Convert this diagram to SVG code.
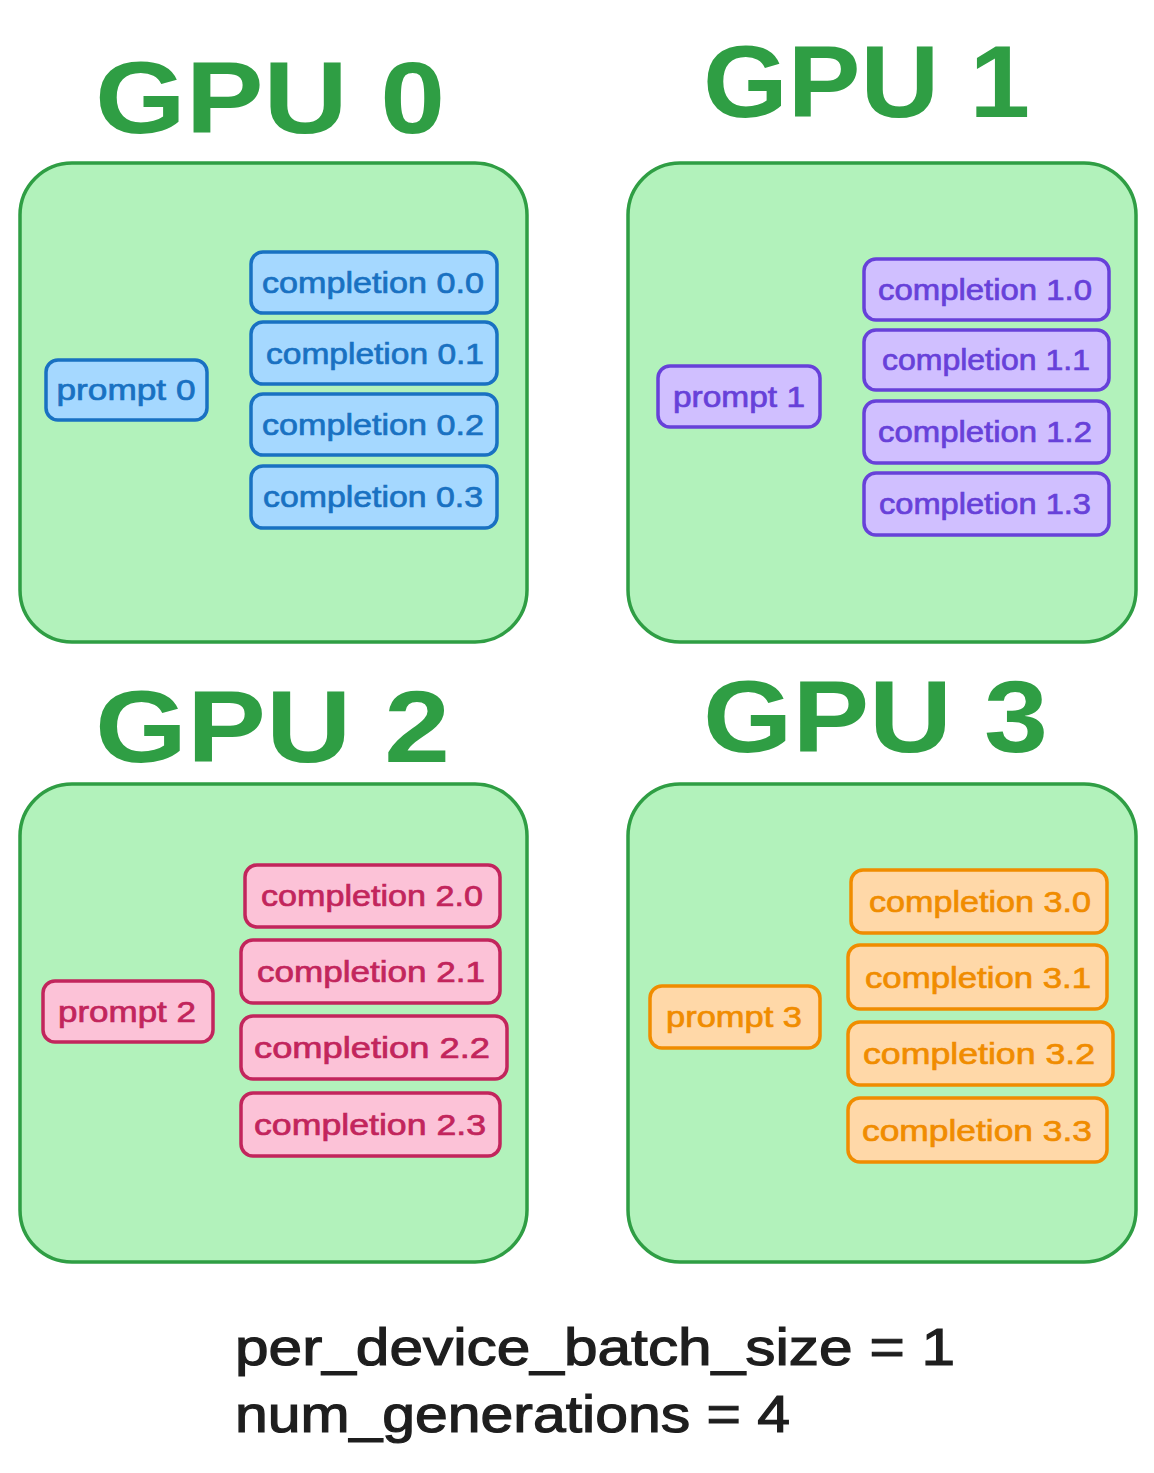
<svg xmlns="http://www.w3.org/2000/svg" width="1154" height="1473" viewBox="0 0 1154 1473">
<style>
.gpu{fill:#b2f2bb;stroke:#2f9e44;stroke-width:3.5}
.title{font-family:"Liberation Sans",Arial,sans-serif;font-size:102px;font-weight:700;fill:#2f9e44}
.lbl{font-family:"Liberation Sans",Arial,sans-serif;font-size:30px;text-anchor:middle;stroke-width:0.7}
.b rect{fill:#a5d8ff;stroke:#1971c2;stroke-width:3.5}
.b text{fill:#1971c2;stroke:#1971c2}
.v rect{fill:#d0bfff;stroke:#6741d9;stroke-width:3.5}
.v text{fill:#6741d9;stroke:#6741d9}
.p rect{fill:#fcc2d7;stroke:#c2255c;stroke-width:3.5}
.p text{fill:#c2255c;stroke:#c2255c}
.o rect{fill:#ffd8a8;stroke:#f08c00;stroke-width:3.5}
.o text{fill:#f08c00;stroke:#f08c00}
.note{font-family:"Liberation Sans",Arial,sans-serif;font-size:52px;fill:#1e1e1e;stroke:#1e1e1e;stroke-width:1.2}
</style>
<rect width="1154" height="1473" fill="#ffffff"/>

<g id="gpu0">
<text class="title" x="95" y="133" textLength="350" lengthAdjust="spacingAndGlyphs">GPU 0</text>
<rect class="gpu" x="20" y="163" width="507" height="479" rx="52"/>
<g class="b">
<g id="prompt0"><rect x="46" y="360" width="161" height="60" rx="12"/><text class="lbl" x="126" y="400" textLength="139" lengthAdjust="spacingAndGlyphs">prompt 0</text></g>
<g id="c00"><rect x="251" y="252" width="246" height="61" rx="12"/><text class="lbl" x="373" y="293" textLength="222" lengthAdjust="spacingAndGlyphs">completion 0.0</text></g>
<g id="c01"><rect x="251" y="322" width="246" height="62" rx="12"/><text class="lbl" x="375" y="364" textLength="218" lengthAdjust="spacingAndGlyphs">completion 0.1</text></g>
<g id="c02"><rect x="251" y="394" width="246" height="61" rx="12"/><text class="lbl" x="373" y="435" textLength="222" lengthAdjust="spacingAndGlyphs">completion 0.2</text></g>
<g id="c03"><rect x="251" y="466" width="246" height="62" rx="12"/><text class="lbl" x="373" y="507" textLength="220" lengthAdjust="spacingAndGlyphs">completion 0.3</text></g>
</g>
</g>

<g id="gpu1">
<text class="title" x="703" y="117" textLength="327" lengthAdjust="spacingAndGlyphs">GPU 1</text>
<rect class="gpu" x="628" y="163" width="508" height="479" rx="52"/>
<g class="v">
<g id="prompt1"><rect x="658" y="366" width="162" height="61" rx="12"/><text class="lbl" x="739" y="407" textLength="132" lengthAdjust="spacingAndGlyphs">prompt 1</text></g>
<g id="c10"><rect x="864" y="259" width="245" height="61" rx="12"/><text class="lbl" x="985" y="300" textLength="214" lengthAdjust="spacingAndGlyphs">completion 1.0</text></g>
<g id="c11"><rect x="864" y="330" width="245" height="60" rx="12"/><text class="lbl" x="986" y="370" textLength="208" lengthAdjust="spacingAndGlyphs">completion 1.1</text></g>
<g id="c12"><rect x="864" y="401" width="245" height="62" rx="12"/><text class="lbl" x="985" y="442" textLength="214" lengthAdjust="spacingAndGlyphs">completion 1.2</text></g>
<g id="c13"><rect x="864" y="473" width="245" height="62" rx="12"/><text class="lbl" x="985" y="514" textLength="212" lengthAdjust="spacingAndGlyphs">completion 1.3</text></g>
</g>
</g>

<g id="gpu2">
<text class="title" x="95" y="762" textLength="355" lengthAdjust="spacingAndGlyphs">GPU 2</text>
<rect class="gpu" x="20" y="784" width="507" height="478" rx="52"/>
<g class="p">
<g id="prompt2"><rect x="43" y="981" width="170" height="61" rx="12"/><text class="lbl" x="127" y="1022" textLength="138" lengthAdjust="spacingAndGlyphs">prompt 2</text></g>
<g id="c20"><rect x="245" y="865" width="255" height="62" rx="12"/><text class="lbl" x="372" y="906" textLength="222" lengthAdjust="spacingAndGlyphs">completion 2.0</text></g>
<g id="c21"><rect x="241" y="940" width="259" height="63" rx="12"/><text class="lbl" x="371" y="982" textLength="228" lengthAdjust="spacingAndGlyphs">completion 2.1</text></g>
<g id="c22"><rect x="241" y="1016" width="266" height="63" rx="12"/><text class="lbl" x="372" y="1058" textLength="236" lengthAdjust="spacingAndGlyphs">completion 2.2</text></g>
<g id="c23"><rect x="241" y="1093" width="259" height="63" rx="12"/><text class="lbl" x="370" y="1135" textLength="232" lengthAdjust="spacingAndGlyphs">completion 2.3</text></g>
</g>
</g>

<g id="gpu3">
<text class="title" x="703" y="752" textLength="345" lengthAdjust="spacingAndGlyphs">GPU 3</text>
<rect class="gpu" x="628" y="784" width="508" height="478" rx="52"/>
<g class="o">
<g id="prompt3"><rect x="650" y="986" width="170" height="62" rx="12"/><text class="lbl" x="734" y="1027" textLength="136" lengthAdjust="spacingAndGlyphs">prompt 3</text></g>
<g id="c30"><rect x="851" y="870" width="256" height="63" rx="12"/><text class="lbl" x="980" y="912" textLength="222" lengthAdjust="spacingAndGlyphs">completion 3.0</text></g>
<g id="c31"><rect x="848" y="945" width="259" height="64" rx="12"/><text class="lbl" x="978" y="988" textLength="226" lengthAdjust="spacingAndGlyphs">completion 3.1</text></g>
<g id="c32"><rect x="848" y="1022" width="265" height="63" rx="12"/><text class="lbl" x="979" y="1064" textLength="232" lengthAdjust="spacingAndGlyphs">completion 3.2</text></g>
<g id="c33"><rect x="848" y="1098" width="259" height="64" rx="12"/><text class="lbl" x="977" y="1141" textLength="230" lengthAdjust="spacingAndGlyphs">completion 3.3</text></g>
</g>
</g>

<g id="connectors"></g>

<g id="notes">
<text class="note" x="235" y="1365" textLength="720" lengthAdjust="spacingAndGlyphs">per_device_batch_size = 1</text>
<text class="note" x="235" y="1432" textLength="555" lengthAdjust="spacingAndGlyphs">num_generations = 4</text>
</g>
</svg>
